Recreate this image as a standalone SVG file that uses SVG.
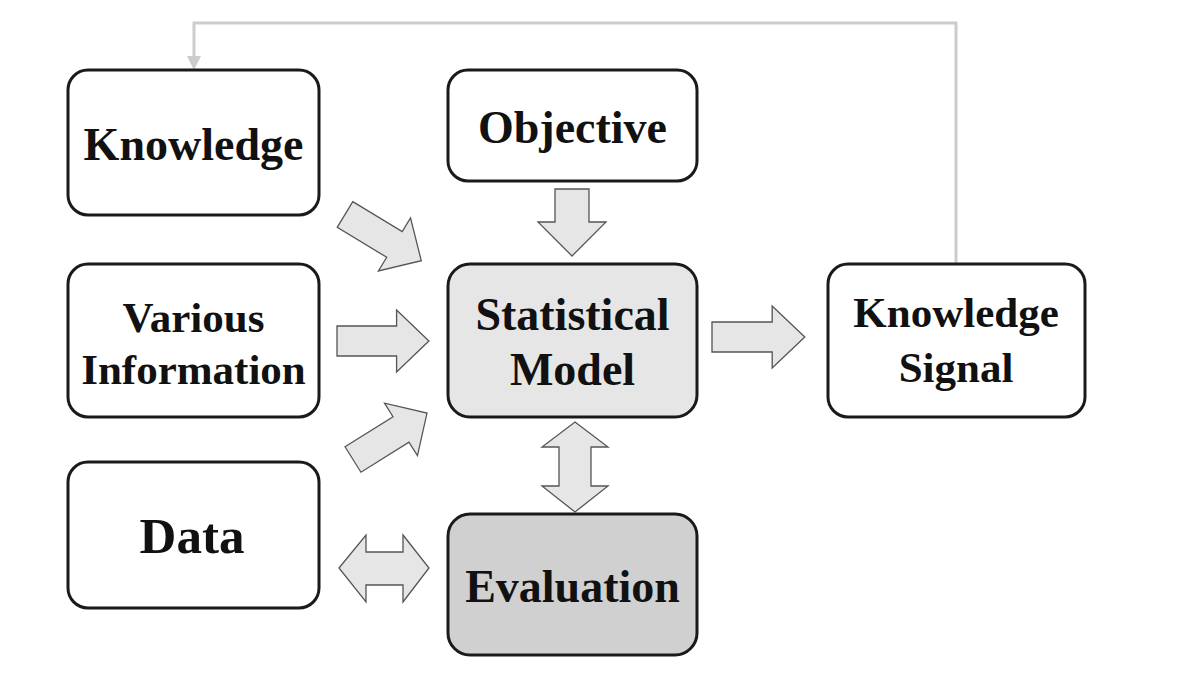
<svg xmlns="http://www.w3.org/2000/svg" width="1177" height="696" viewBox="0 0 1177 696">
<defs>
<style>
.box{stroke:#1a1a1a;stroke-width:3;fill:#fff}
.sm{fill:#e6e6e6}
.ev{fill:#d0d0d0}
.t{font-family:"Liberation Serif","Times New Roman",serif;font-weight:bold;fill:#111;text-anchor:middle}
.blk{fill:#e6e6e6;stroke:#555;stroke-width:1.3;stroke-linejoin:miter}
.fb{fill:none;stroke:#cccccc;stroke-width:3}
</style>
<path id="arr" d="M0,-15 H59 V-31 L91,0 L59,31 V15 H0 Z"/>
</defs>
<rect width="1177" height="696" fill="#fff"/>
<g id="connectors">
<polyline class="fb" points="956,264 956,23 194,23 194,58"/>
<polygon points="187,56 201,56 194,70" fill="#cccccc"/>
<use href="#arr" class="blk" transform="translate(345,214.5) rotate(31.2) scale(0.98,1)"/>
<use href="#arr" class="blk" transform="translate(337,341) scale(1.01,1)"/>
<use href="#arr" class="blk" transform="translate(353,459.5) rotate(-32.1) scale(0.96,1)"/>
<use href="#arr" class="blk" transform="translate(712,337) scale(1.02,1)"/>
<path class="blk" d="M555,189 H589 V222 H606 L572,256 L538,222 H555 Z"/>
<path class="blk" d="M575,422 L608,447 H591 V486 H608 L575,512 L542,486 H559 V447 H542 Z"/>
<path class="blk" d="M339,568 L366,535 V552 H403 V535 L429,568 L403,602 V585 H366 V602 Z"/>
</g>
<g id="knowledge">
<rect class="box" x="68" y="70" width="251" height="145" rx="20"/>
<text class="t" x="193.5" y="160" font-size="46">Knowledge</text>
</g>
<g id="various-information">
<rect class="box" x="68" y="264" width="251" height="153" rx="20"/>
<text class="t" x="193.5" y="332" font-size="43">Various</text>
<text class="t" x="193.5" y="384" font-size="43">Information</text>
</g>
<g id="data">
<rect class="box" x="68" y="462" width="251" height="146" rx="20"/>
<text class="t" x="192" y="553" font-size="51">Data</text>
</g>
<g id="objective">
<rect class="box" x="448" y="70" width="249" height="111" rx="20"/>
<text class="t" x="572.5" y="143" font-size="46">Objective</text>
</g>
<g id="statistical-model">
<rect class="box sm" x="448" y="264" width="249" height="153" rx="22"/>
<text class="t" x="572.5" y="330" font-size="46">Statistical</text>
<text class="t" x="572.5" y="385" font-size="46">Model</text>
</g>
<g id="evaluation">
<rect class="box ev" x="448" y="514" width="249" height="141" rx="22"/>
<text class="t" x="572.5" y="602" font-size="46">Evaluation</text>
</g>
<g id="knowledge-signal">
<rect class="box" x="828" y="264" width="257" height="153" rx="20"/>
<text class="t" x="956" y="327" font-size="43">Knowledge</text>
<text class="t" x="956" y="382" font-size="43">Signal</text>
</g>
</svg>
